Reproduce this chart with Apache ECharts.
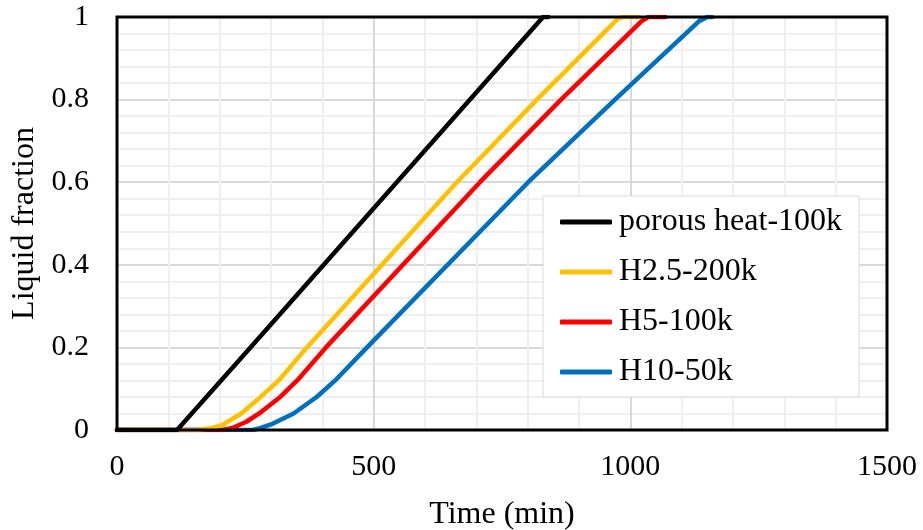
<!DOCTYPE html>
<html>
<head>
<meta charset="utf-8">
<script src="https://cdn.jsdelivr.net/npm/echarts@6/dist/echarts.min.js"></script>
<style>
html,body{margin:0;padding:0;background:#fff;}
#chart{width:923px;height:530px;}
</style>
</head>
<body>
<div id="chart"></div>
<script>
// ---- data ----
var seriesNames = ['porous heat-100k', 'H2.5-200k', 'H5-100k', 'H10-50k'];
var seriesColors = ['#000000', '#FFC000', '#FF0000', '#0070C0'];

var timePorous = [0, 117, 260, 545, 830, 840];
var fracPorous = [0, 0, 0.2, 0.6, 1, 1];

var timeH25 = [0, 155, 185, 205, 242, 280, 315, 370, 662, 818, 975, 985, 1015];
var fracH25 = [0, 0, 0.005, 0.012, 0.04, 0.08, 0.12, 0.2, 0.6, 0.8, 0.995, 1, 1];

var timeH5 = [0, 205, 225, 252, 277, 318, 351, 407, 707, 865, 1022, 1035, 1068];
var fracH5 = [0, 0, 0.005, 0.02, 0.04, 0.08, 0.12, 0.2, 0.6, 0.8, 0.99, 1, 1];

var timeH10 = [0, 265, 280, 303, 344, 389, 425, 487, 801, 970, 1134, 1150, 1159];
var fracH10 = [0, 0, 0.005, 0.015, 0.04, 0.08, 0.12, 0.2, 0.6, 0.8, 0.99, 1, 1];

var xTicks = [0, 500, 1000, 1500];
var yTicks = [0, 0.2, 0.4, 0.6, 0.8, 1];

function pairs(t, f) {
  var out = [];
  for (var i = 0; i < t.length; i++) out.push([t[i], f[i]]);
  return out;
}
var allData = [
  pairs(timePorous, fracPorous),
  pairs(timeH25, fracH25),
  pairs(timeH5, fracH5),
  pairs(timeH10, fracH10)
];

var FONT = '"Liberation Serif", "Times New Roman", serif';

var chart = echarts.init(document.getElementById('chart'), null, {renderer: 'canvas'});
var series = seriesNames.map(function (n, i) {
  return {
    name: n,
    type: 'line',
    data: allData[i],
    showSymbol: false,
    symbol: 'none',
    smooth: false,
    z: 10 - i,
    lineStyle: {color: seriesColors[i], width: 4.5, cap: 'round', join: 'round'},
    itemStyle: {color: seriesColors[i]}
  };
});

chart.setOption({
  animation: false,
  backgroundColor: '#ffffff',
  grid: {
    left: 117, top: 17, right: 36, bottom: 100,
    outerBoundsMode: 'none',
    containLabel: false,
    show: true, borderColor: '#000000', borderWidth: 3, backgroundColor: 'transparent', z: 20
  },
  legend: {
    data: seriesNames,
    orient: 'vertical',
    left: 543, top: 196,
    backgroundColor: '#ffffff',
    borderColor: '#d9d9d9', borderWidth: 1,
    padding: [10, 17, 9, 17],
    itemGap: 18,
    itemWidth: 52, itemHeight: 5,
    icon: 'roundRect',
    textStyle: {fontFamily: FONT, fontSize: 32, color: '#000000', padding: [0, 0, 0, 2]}
  },
  xAxis: {
    type: 'value',
    min: 0, max: 1500, interval: 500,
    name: 'Time (min)',
    nameLocation: 'middle',
    nameGap: 69,
    nameTextStyle: {fontFamily: FONT, fontSize: 32, color: '#000000'},
    axisLine: {show: false},
    axisTick: {show: false},
    axisLabel: {
      fontFamily: FONT, fontSize: 30, color: '#000000', margin: 22,
      formatter: function (v) { return xTicks.indexOf(v) >= 0 ? String(v) : ''; }
    },
    splitLine: {show: true, lineStyle: {color: '#d9d9d9', width: 2}},
    minorTick: {show: false, splitNumber: 5},
    minorSplitLine: {show: true, lineStyle: {color: '#efefef', width: 2}}
  },
  yAxis: {
    type: 'value',
    min: 0, max: 1, interval: 0.2,
    name: 'Liquid fraction',
    nameLocation: 'middle',
    nameGap: 66,
    nameTextStyle: {fontFamily: FONT, fontSize: 32, color: '#000000'},
    axisLine: {show: false},
    axisTick: {show: false},
    axisLabel: {
      fontFamily: FONT, fontSize: 30, color: '#000000', margin: 28,
      formatter: function (v) {
        for (var k = 0; k < yTicks.length; k++) {
          if (Math.abs(yTicks[k] - v) < 1e-9) return String(yTicks[k]);
        }
        return '';
      }
    },
    splitLine: {show: true, lineStyle: {color: '#d9d9d9', width: 2}},
    minorTick: {show: false, splitNumber: 5},
    minorSplitLine: {show: true, lineStyle: {color: '#efefef', width: 2}}
  },
  series: series
});
</script>
</body>
</html>
